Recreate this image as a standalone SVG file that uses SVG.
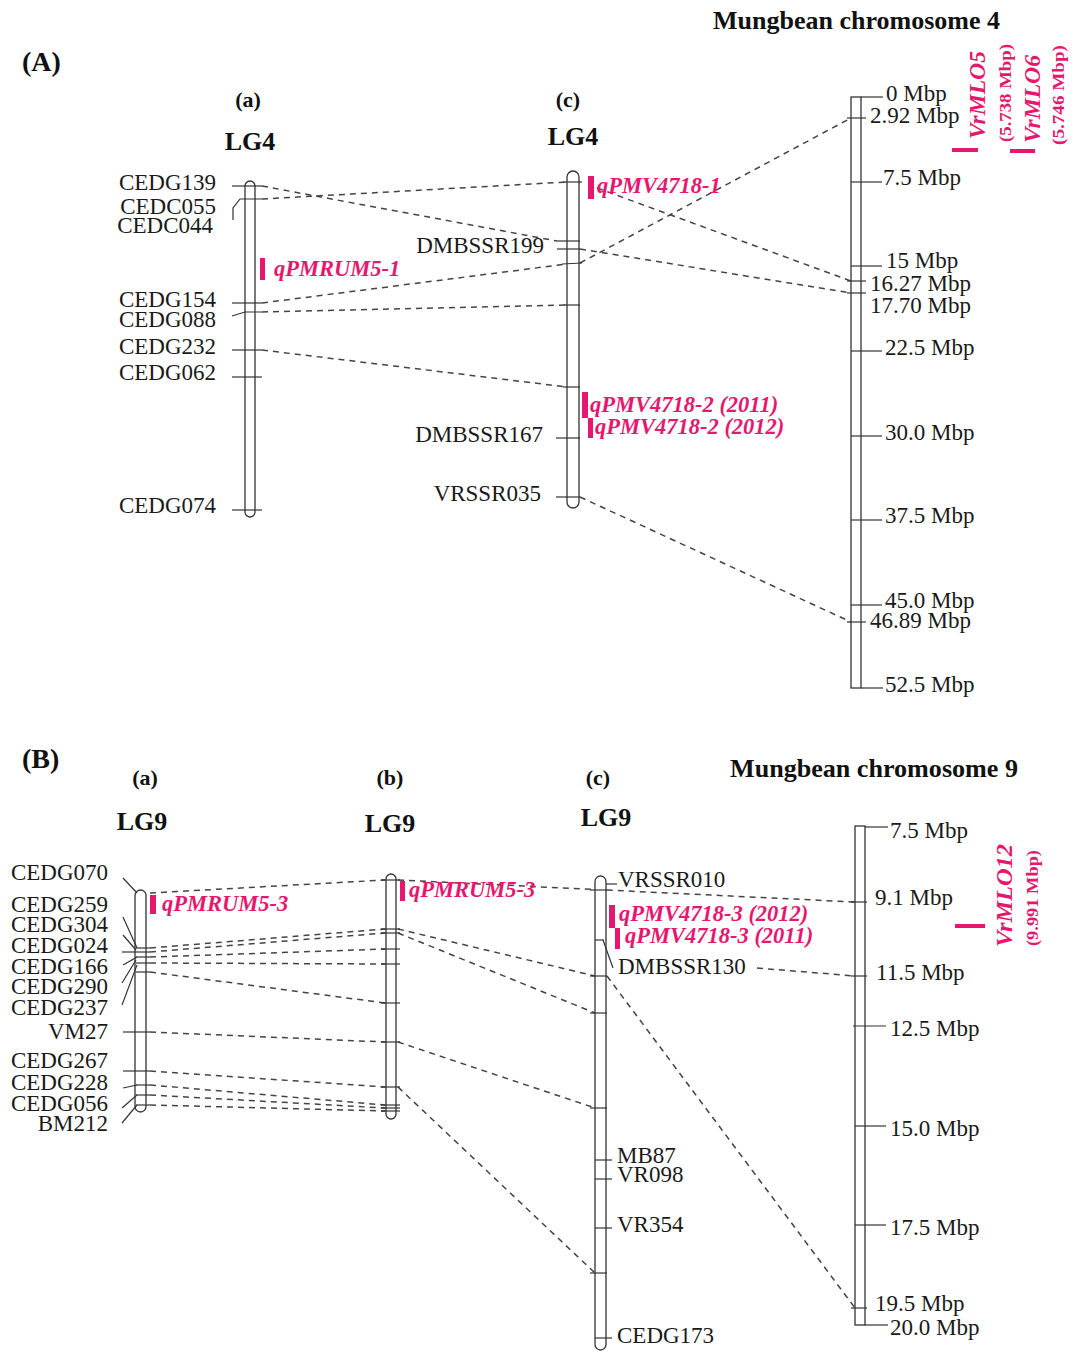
<svg xmlns="http://www.w3.org/2000/svg" width="1077" height="1352" viewBox="0 0 1077 1352">
<style>
.chr{fill:#fff;stroke:#333;stroke-width:1.3}
.tk{stroke:#333;stroke-width:1.2;fill:none}
.cn{stroke:#444;stroke-width:1.5;stroke-dasharray:6 5;fill:none}
.lb{font-family:"Liberation Serif",serif;font-size:23px;fill:#1a1a1a}
.ti{font-family:"Liberation Serif",serif;font-weight:bold;fill:#111}
.q{font-family:"Liberation Serif",serif;font-weight:bold;font-style:italic;fill:#e5176f;font-size:22.5px}
.qs{font-family:"Liberation Serif",serif;font-weight:bold;fill:#e5176f;font-size:16px}
.bar{fill:#e5176f}
.e{text-anchor:end}
.m{text-anchor:middle}
</style>
<rect width="1077" height="1352" fill="#fff"/>

<!-- Titles -->
<g id="titles">
<text class="ti" x="22" y="71" font-size="28">(A)</text>
<text class="ti m" x="248" y="107" font-size="22">(a)</text>
<text class="ti m" x="250" y="150" font-size="26">LG4</text>
<text class="ti m" x="568" y="107" font-size="22">(c)</text>
<text class="ti m" x="573" y="145" font-size="26">LG4</text>
<text class="ti" x="713" y="29" font-size="25" textLength="287" lengthAdjust="spacingAndGlyphs">Mungbean chromosome 4</text>
<text class="ti" x="22" y="768" font-size="28">(B)</text>
<text class="ti m" x="145" y="785" font-size="22">(a)</text>
<text class="ti m" x="142" y="830" font-size="26">LG9</text>
<text class="ti m" x="390" y="785" font-size="22">(b)</text>
<text class="ti m" x="390" y="832" font-size="26">LG9</text>
<text class="ti m" x="598" y="785" font-size="22">(c)</text>
<text class="ti m" x="606" y="826" font-size="26">LG9</text>
<text class="ti" x="730" y="777" font-size="25" textLength="288" lengthAdjust="spacingAndGlyphs">Mungbean chromosome 9</text>
</g>

<!-- Connectors -->
<g id="connectors">
<line class="cn" x1="262" y1="186" x2="557" y2="241"/>
<line class="cn" x1="580" y1="249" x2="851" y2="293"/>
<line class="cn" x1="262" y1="199" x2="567" y2="182"/>
<line class="cn" x1="597" y1="188" x2="851" y2="281"/>
<line class="cn" x1="262" y1="303" x2="567" y2="264"/>
<line class="cn" x1="580" y1="263" x2="851" y2="118"/>
<line class="cn" x1="262" y1="312" x2="567" y2="305"/>
<line class="cn" x1="262" y1="350" x2="567" y2="387"/>
<line class="cn" x1="580" y1="497" x2="851" y2="622"/>

<line class="cn" x1="150" y1="893" x2="385" y2="880"/>
<line class="cn" x1="150" y1="948" x2="385" y2="929"/>
<line class="cn" x1="150" y1="952" x2="385" y2="933"/>
<line class="cn" x1="150" y1="957" x2="385" y2="949"/>
<line class="cn" x1="150" y1="963" x2="385" y2="964"/>
<line class="cn" x1="150" y1="972" x2="385" y2="1003"/>
<line class="cn" x1="150" y1="1032" x2="385" y2="1042"/>
<line class="cn" x1="150" y1="1071" x2="385" y2="1087"/>
<line class="cn" x1="150" y1="1085" x2="385" y2="1105"/>
<line class="cn" x1="150" y1="1095" x2="385" y2="1108"/>
<line class="cn" x1="150" y1="1105" x2="385" y2="1111"/>

<line class="cn" x1="398" y1="880" x2="855" y2="902"/>
<line class="cn" x1="398" y1="929" x2="595" y2="976"/>
<line class="cn" x1="398" y1="933" x2="595" y2="1013"/>
<line class="cn" x1="398" y1="1042" x2="595" y2="1108"/>
<line class="cn" x1="398" y1="1087" x2="595" y2="1273"/>
<line class="cn" x1="757" y1="968" x2="855" y2="976"/>
<line class="cn" x1="607" y1="976" x2="855" y2="1308"/>
</g>

<!-- A (a) LG4 -->
<g id="A-a-LG4">
<rect class="chr" x="245" y="181" width="10" height="336" rx="5"/>
<line class="tk" x1="232" y1="186" x2="262" y2="186"/>
<path class="tk" d="M233,220 L233,208 L240,199 L262,199"/>
<line class="tk" x1="232" y1="303" x2="262" y2="303"/>
<path class="tk" d="M232,316 L245,312 L262,312"/>
<line class="tk" x1="232" y1="350" x2="262" y2="350"/>
<line class="tk" x1="232" y1="377" x2="262" y2="377"/>
<line class="tk" x1="232" y1="510" x2="262" y2="510"/>
<text class="lb e" x="216" y="190">CEDG139</text>
<text class="lb e" x="216" y="214">CEDC055</text>
<text class="lb e" x="213" y="233">CEDC044</text>
<text class="lb e" x="216" y="307">CEDG154</text>
<text class="lb e" x="216" y="327">CEDG088</text>
<text class="lb e" x="216" y="354">CEDG232</text>
<text class="lb e" x="216" y="380">CEDG062</text>
<text class="lb e" x="216" y="513">CEDG074</text>
<rect class="bar" x="260" y="258" width="5" height="22"/>
<text class="q" x="274" y="276">qPMRUM5-1</text>
</g>

<!-- A (c) LG4 -->
<g id="A-c-LG4">
<rect class="chr" x="567" y="171" width="12" height="337" rx="6"/>
<line class="tk" x1="563" y1="182" x2="582" y2="182"/>
<line class="tk" x1="557" y1="241" x2="580" y2="241"/>
<line class="tk" x1="557" y1="249" x2="580" y2="249"/>
<line class="tk" x1="562" y1="264" x2="582" y2="263"/>
<line class="tk" x1="564" y1="305" x2="580" y2="305"/>
<line class="tk" x1="563" y1="387" x2="580" y2="387"/>
<line class="tk" x1="556" y1="438" x2="580" y2="438"/>
<line class="tk" x1="556" y1="497" x2="580" y2="497"/>
<text class="lb e" x="544" y="253">DMBSSR199</text>
<text class="lb e" x="543" y="442">DMBSSR167</text>
<text class="lb e" x="541" y="501">VRSSR035</text>
<rect class="bar" x="588" y="176" width="6" height="23"/>
<text class="q" x="597" y="193">qPMV4718-1</text>
<rect class="bar" x="582" y="392" width="6" height="26"/>
<rect class="bar" x="588" y="418" width="5" height="20"/>
<text class="q" x="590" y="412" font-size="22">qPMV4718-2 (2011)</text>
<text class="q" x="595" y="434" font-size="22">qPMV4718-2 (2012)</text>
</g>

<!-- Mungbean chromosome 4 -->
<g id="Vr-chr4">
<rect class="chr" x="851" y="97" width="10" height="591"/>
<line class="tk" x1="861" y1="97" x2="883" y2="97"/>
<line class="tk" x1="847" y1="118" x2="866" y2="118"/>
<line class="tk" x1="851" y1="182" x2="882" y2="182"/>
<line class="tk" x1="851" y1="266" x2="882" y2="266"/>
<line class="tk" x1="847" y1="281" x2="866" y2="281"/>
<line class="tk" x1="847" y1="293" x2="866" y2="293"/>
<line class="tk" x1="851" y1="351" x2="882" y2="351"/>
<line class="tk" x1="851" y1="436" x2="882" y2="436"/>
<line class="tk" x1="851" y1="520" x2="882" y2="520"/>
<line class="tk" x1="851" y1="605" x2="882" y2="605"/>
<line class="tk" x1="847" y1="622" x2="866" y2="622"/>
<line class="tk" x1="861" y1="688" x2="883" y2="688"/>
<text class="lb" x="886" y="101">0 Mbp</text>
<text class="lb" x="870" y="123">2.92 Mbp</text>
<text class="lb" x="883" y="185">7.5 Mbp</text>
<text class="lb" x="886" y="268">15 Mbp</text>
<text class="lb" x="870" y="291">16.27 Mbp</text>
<text class="lb" x="870" y="313">17.70 Mbp</text>
<text class="lb" x="885" y="355">22.5 Mbp</text>
<text class="lb" x="885" y="440">30.0 Mbp</text>
<text class="lb" x="885" y="523">37.5 Mbp</text>
<text class="lb" x="885" y="608">45.0 Mbp</text>
<text class="lb" x="870" y="628">46.89 Mbp</text>
<text class="lb" x="885" y="692">52.5 Mbp</text>
</g>

<g id="VrMLO5">
<rect class="bar" x="952" y="148" width="26" height="4"/>
<text class="q" transform="translate(985,139) rotate(-90)" font-size="22" textLength="88" lengthAdjust="spacingAndGlyphs">VrMLO5</text>
<text class="qs" transform="translate(1011,142) rotate(-90)" textLength="98" lengthAdjust="spacingAndGlyphs">(5.738 Mbp)</text>
</g>
<g id="VrMLO6">
<rect class="bar" x="1010" y="149" width="25" height="4"/>
<text class="q" transform="translate(1040,143) rotate(-90)" font-size="22" textLength="88" lengthAdjust="spacingAndGlyphs">VrMLO6</text>
<text class="qs" transform="translate(1064,145) rotate(-90)" textLength="100" lengthAdjust="spacingAndGlyphs">(5.746 Mbp)</text>
</g>

<!-- B (a) LG9 -->
<g id="B-a-LG9">
<rect class="chr" x="135" y="890" width="11" height="222" rx="5.5"/>
<line class="tk" x1="123" y1="878" x2="137" y2="893"/>
<line class="tk" x1="123" y1="917" x2="137" y2="948"/>
<line class="tk" x1="123" y1="935" x2="136" y2="950"/>
<line class="tk" x1="136" y1="948" x2="150" y2="948"/>
<line class="tk" x1="122" y1="952" x2="150" y2="952"/>
<line class="tk" x1="123" y1="965" x2="137" y2="957"/>
<line class="tk" x1="136" y1="957" x2="150" y2="957"/>
<line class="tk" x1="122" y1="983" x2="136" y2="960"/>
<line class="tk" x1="136" y1="963" x2="150" y2="963"/>
<line class="tk" x1="122" y1="1005" x2="137" y2="965"/>
<line class="tk" x1="136" y1="972" x2="150" y2="972"/>
<line class="tk" x1="123" y1="1032" x2="150" y2="1032"/>
<line class="tk" x1="123" y1="1071" x2="150" y2="1071"/>
<line class="tk" x1="123" y1="1088" x2="137" y2="1085"/>
<line class="tk" x1="136" y1="1085" x2="150" y2="1085"/>
<line class="tk" x1="122" y1="1108" x2="137" y2="1095"/>
<line class="tk" x1="136" y1="1095" x2="150" y2="1095"/>
<line class="tk" x1="122" y1="1123" x2="137" y2="1105"/>
<line class="tk" x1="136" y1="1105" x2="150" y2="1105"/>
<text class="lb e" x="108" y="880">CEDG070</text>
<text class="lb e" x="108" y="912">CEDG259</text>
<text class="lb e" x="108" y="932">CEDG304</text>
<text class="lb e" x="108" y="953">CEDG024</text>
<text class="lb e" x="108" y="974">CEDG166</text>
<text class="lb e" x="108" y="994">CEDG290</text>
<text class="lb e" x="108" y="1015">CEDG237</text>
<text class="lb e" x="108" y="1039">VM27</text>
<text class="lb e" x="108" y="1068">CEDG267</text>
<text class="lb e" x="108" y="1090">CEDG228</text>
<text class="lb e" x="108" y="1111">CEDG056</text>
<text class="lb e" x="108" y="1131">BM212</text>
<rect class="bar" x="150" y="895" width="6" height="19"/>
<text class="q" x="162" y="911" font-size="22">qPMRUM5-3</text>
</g>

<!-- B (b) LG9 -->
<g id="B-b-LG9">
<rect class="chr" x="386" y="874" width="10" height="245" rx="5"/>
<line class="tk" x1="381" y1="880" x2="400" y2="880"/>
<line class="tk" x1="381" y1="929" x2="400" y2="929"/>
<line class="tk" x1="381" y1="933" x2="400" y2="933"/>
<line class="tk" x1="381" y1="949" x2="400" y2="949"/>
<line class="tk" x1="381" y1="964" x2="400" y2="964"/>
<line class="tk" x1="381" y1="1003" x2="400" y2="1003"/>
<line class="tk" x1="381" y1="1042" x2="400" y2="1042"/>
<line class="tk" x1="381" y1="1087" x2="400" y2="1087"/>
<line class="tk" x1="381" y1="1105" x2="400" y2="1105"/>
<line class="tk" x1="381" y1="1108" x2="400" y2="1108"/>
<line class="tk" x1="381" y1="1111" x2="400" y2="1111"/>
<rect class="bar" x="400" y="881" width="5" height="20"/>
<text class="q" x="409" y="897" font-size="22">qPMRUM5-3</text>
</g>

<!-- B (c) LG9 -->
<g id="B-c-LG9">
<rect class="chr" x="595" y="876" width="11" height="474" rx="5.5"/>
<line class="tk" x1="590" y1="890" x2="607" y2="890"/>
<line class="tk" x1="606" y1="884" x2="617" y2="884"/>
<line class="tk" x1="595" y1="940" x2="604" y2="940"/>
<line class="tk" x1="603" y1="940" x2="613" y2="968"/>
<line class="tk" x1="590" y1="976" x2="607" y2="976"/>
<line class="tk" x1="590" y1="1013" x2="607" y2="1013"/>
<line class="tk" x1="590" y1="1108" x2="607" y2="1108"/>
<line class="tk" x1="595" y1="1160" x2="612" y2="1160"/>
<line class="tk" x1="595" y1="1179" x2="612" y2="1179"/>
<line class="tk" x1="595" y1="1228" x2="612" y2="1228"/>
<line class="tk" x1="590" y1="1273" x2="607" y2="1273"/>
<line class="tk" x1="595" y1="1338" x2="612" y2="1338"/>
<text class="lb" x="618" y="887">VRSSR010</text>
<text class="lb" x="618" y="974">DMBSSR130</text>
<text class="lb" x="617" y="1163">MB87</text>
<text class="lb" x="617" y="1182">VR098</text>
<text class="lb" x="617" y="1232">VR354</text>
<text class="lb" x="617" y="1343">CEDG173</text>
<rect class="bar" x="609" y="905" width="6" height="23"/>
<rect class="bar" x="615" y="928" width="5" height="21"/>
<text class="q" x="619" y="921" font-size="22">qPMV4718-3 (2012)</text>
<text class="q" x="625" y="943" font-size="22">qPMV4718-3 (2011)</text>
</g>

<!-- Mungbean chromosome 9 -->
<g id="Vr-chr9">
<rect class="chr" x="855" y="826" width="10" height="499"/>
<line class="tk" x1="865" y1="827" x2="888" y2="827"/>
<line class="tk" x1="851" y1="902" x2="867" y2="902"/>
<line class="tk" x1="851" y1="976" x2="867" y2="976"/>
<line class="tk" x1="853" y1="1026" x2="886" y2="1026"/>
<line class="tk" x1="855" y1="1126" x2="886" y2="1126"/>
<line class="tk" x1="855" y1="1225" x2="886" y2="1225"/>
<line class="tk" x1="851" y1="1308" x2="867" y2="1308"/>
<line class="tk" x1="865" y1="1325" x2="888" y2="1325"/>
<text class="lb" x="890" y="838">7.5 Mbp</text>
<text class="lb" x="875" y="905">9.1 Mbp</text>
<text class="lb" x="876" y="980">11.5 Mbp</text>
<text class="lb" x="890" y="1036">12.5 Mbp</text>
<text class="lb" x="890" y="1136">15.0 Mbp</text>
<text class="lb" x="890" y="1235">17.5 Mbp</text>
<text class="lb" x="875" y="1311">19.5 Mbp</text>
<text class="lb" x="890" y="1335">20.0 Mbp</text>
</g>

<g id="VrMLO12">
<rect class="bar" x="955" y="924" width="30" height="4"/>
<text class="q" transform="translate(1012,947) rotate(-90)" font-size="22" textLength="103" lengthAdjust="spacingAndGlyphs">VrMLO12</text>
<text class="qs" transform="translate(1038,946) rotate(-90)" textLength="96" lengthAdjust="spacingAndGlyphs">(9.991 Mbp)</text>
</g>
</svg>
